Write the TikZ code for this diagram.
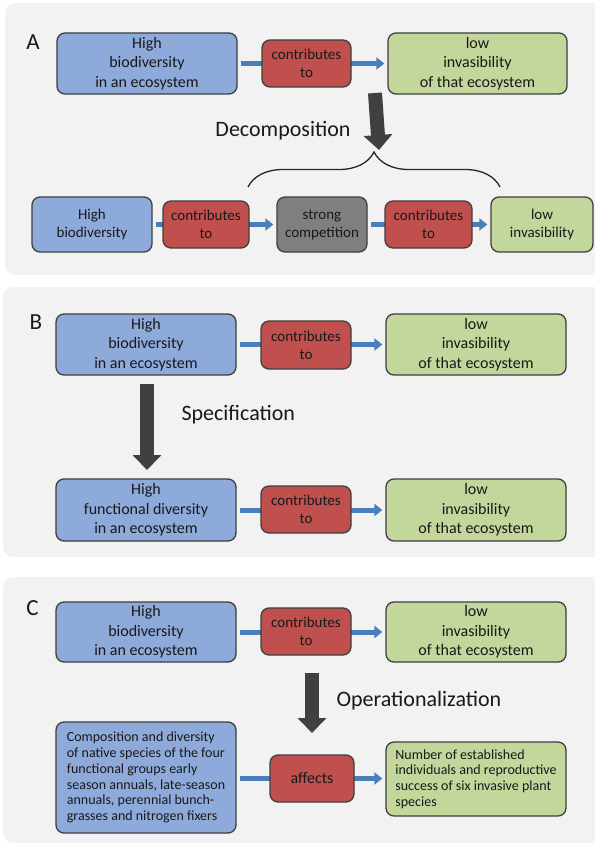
\documentclass[tikz,border=0pt]{standalone}
\usepackage{fontspec}
\setmainfont{Carlito}
\usetikzlibrary{arrows.meta,decorations.pathreplacing}
\definecolor{panelbg}{HTML}{F2F2F2}
\definecolor{bluefill}{HTML}{8EAADB}
\definecolor{redfill}{HTML}{C0504D}
\definecolor{greenfill}{HTML}{C3D69B}
\definecolor{grayfill}{HTML}{7F7F7F}
\definecolor{edgecol}{HTML}{3F3F3F}
\definecolor{flowblue}{HTML}{4A7EBB}
\definecolor{bigdark}{HTML}{404040}
\pgfdeclarelayer{back}
\pgfdeclarelayer{mid}
\pgfsetlayers{back,mid,main}
\begin{document}
\begin{tikzpicture}[x=1pt,y=-1pt,
  panel/.style={fill=panelbg, rounded corners=10pt},
  sz/.style 2 args={minimum width=#1pt, minimum height=#2pt},
  box/.style={draw=edgecol, line width=1.3pt, rounded corners=8pt, inner sep=0pt, align=center, text=black!90},
  bigtxt/.style={font=\fontsize{16}{19.5}\selectfont},
  midtxt/.style={font=\fontsize{15}{18}\selectfont},
  smalltxt/.style={font=\fontsize{14}{15.7}\selectfont},
  bluebox/.style={box, fill=bluefill},
  redbox/.style={box, fill=redfill, midtxt},
  greenbox/.style={box, fill=greenfill},
  graybox/.style={box, fill=grayfill},
  flow/.style={draw=flowblue, line width=5pt, shorten <=3pt, shorten >=3pt, -{Triangle[length=8pt,width=12pt]}},
  bigarrow/.style={draw=bigdark, line width=14pt, -{Triangle[length=15pt,width=28pt]}},
  heading/.style={font=\fontsize{22}{26}\selectfont, text=black!90},
  letter/.style={font=\fontsize{23}{26}\selectfont, text=black!90, inner sep=0pt},
  bracestyle/.style={draw=black!85, line width=1.3pt, decorate, decoration={brace, amplitude=35pt}}
]
\useasboundingbox (0,0) rectangle (594,845);
\begin{pgfonlayer}{back}
  \fill[panel] (5,3) rectangle (620,275);
  \fill[panel] (3,287) rectangle (620,557);
  \fill[panel] (3,577) rectangle (620,843);
\end{pgfonlayer}

% ---------- Panel A ----------
\node[letter] (la) at (33,42.5) {A};
\node[bluebox, bigtxt, sz={180}{61}] (a1) at (147,63.5) {High\\biodiversity\\in an ecosystem};
\node[redbox, sz={89}{47}] (a2) at (306.5,63.5) {contributes\\to};
\node[greenbox, bigtxt, sz={179}{61}] (a3) at (477.5,63.5) {low\\invasibility\\of that ecosystem};
\coordinate (decS) at (375,93);
\coordinate (decE) at (379,150);
\node[heading, anchor=base] (dec) at (283,137) {Decomposition};
\coordinate (brL) at (248,187);
\coordinate (brR) at (500,187);
\node[bluebox, midtxt, sz={120}{55}] (a4) at (92,224.5) {High\\biodiversity};
\node[redbox, sz={86}{47}] (a5) at (206,224.5) {contributes\\to};
\node[graybox, midtxt, sz={90}{55}] (a6) at (322,224.5) {strong\\competition};
\node[redbox, sz={87}{47}] (a7) at (428.5,224.5) {contributes\\to};
\node[greenbox, midtxt, sz={102}{55}] (a8) at (542,224.5) {low\\invasibility};

% ---------- Panel B ----------
\node[letter] (lb) at (36,322) {B};
\node[bluebox, bigtxt, sz={180}{61}] (b1) at (146,344.5) {High\\biodiversity\\in an ecosystem};
\node[redbox, sz={90}{48}] (b2) at (306,345) {contributes\\to};
\node[greenbox, bigtxt, sz={180}{61}] (b3) at (476,344.5) {low\\invasibility\\of that ecosystem};
\coordinate (spS) at (147,384);
\coordinate (spE) at (147,470);
\node[heading, anchor=base west] (spec) at (178,420) {Specification};
\node[bluebox, bigtxt, sz={180}{62}] (b4) at (146,510) {High\\functional diversity\\in an ecosystem};
\node[redbox, sz={90}{47}] (b5) at (306,509.5) {contributes\\to};
\node[greenbox, bigtxt, sz={180}{62}] (b6) at (476,510) {low\\invasibility\\of that ecosystem};

% ---------- Panel C ----------
\node[letter] (lc) at (32.5,608.5) {C};
\node[bluebox, bigtxt, sz={180}{60}] (c1) at (146,632) {High\\biodiversity\\in an ecosystem};
\node[redbox, sz={90}{47}] (c2) at (306,631.5) {contributes\\to};
\node[greenbox, bigtxt, sz={180}{60}] (c3) at (476,632) {low\\invasibility\\of that ecosystem};
\coordinate (opS) at (312,673);
\coordinate (opE) at (312,733);
\node[heading, anchor=base west] (oper) at (333,706) {Operationalization};
\node[bluebox, smalltxt, sz={180}{111}, align=left] (c4) at (146,777.5)
  {Composition and diversity\\of native species of the four\\functional groups early\\season annuals, late-season\\annuals, perennial bunch-\\grasses and nitrogen fixers};
\node[redbox, sz={84}{47}, font=\fontsize{16}{19}\selectfont] (c5) at (312,778.5) {affects};
\node[greenbox, smalltxt, sz={180}{74}, align=left] (c6) at (476,779)
  {Number of established\\individuals and reproductive\\success of six invasive plant\\species};

% ---------- connectors ----------
\begin{pgfonlayer}{mid}
  \draw[flow] (a1.east) -- (a3.west);
  \draw[flow] (a4.east) -- (a6.west);
  \draw[flow] (a6.east) -- (a8.west);
  \draw[flow] (b1.east) -- (b3.west);
  \draw[flow] (b4.east) -- (b6.west);
  \draw[flow] (c1.east) -- (c3.west);
  \draw[flow] (c4.east |- c5.west) -- (c6.west |- c5.west);
\end{pgfonlayer}
\draw[bigarrow] (decS) -- (decE);
\draw[bigarrow] (spS) -- (spE);
\draw[bigarrow] (opS) -- (opE);
\draw[bracestyle] (brL) -- (brR);
\end{tikzpicture}
\end{document}
